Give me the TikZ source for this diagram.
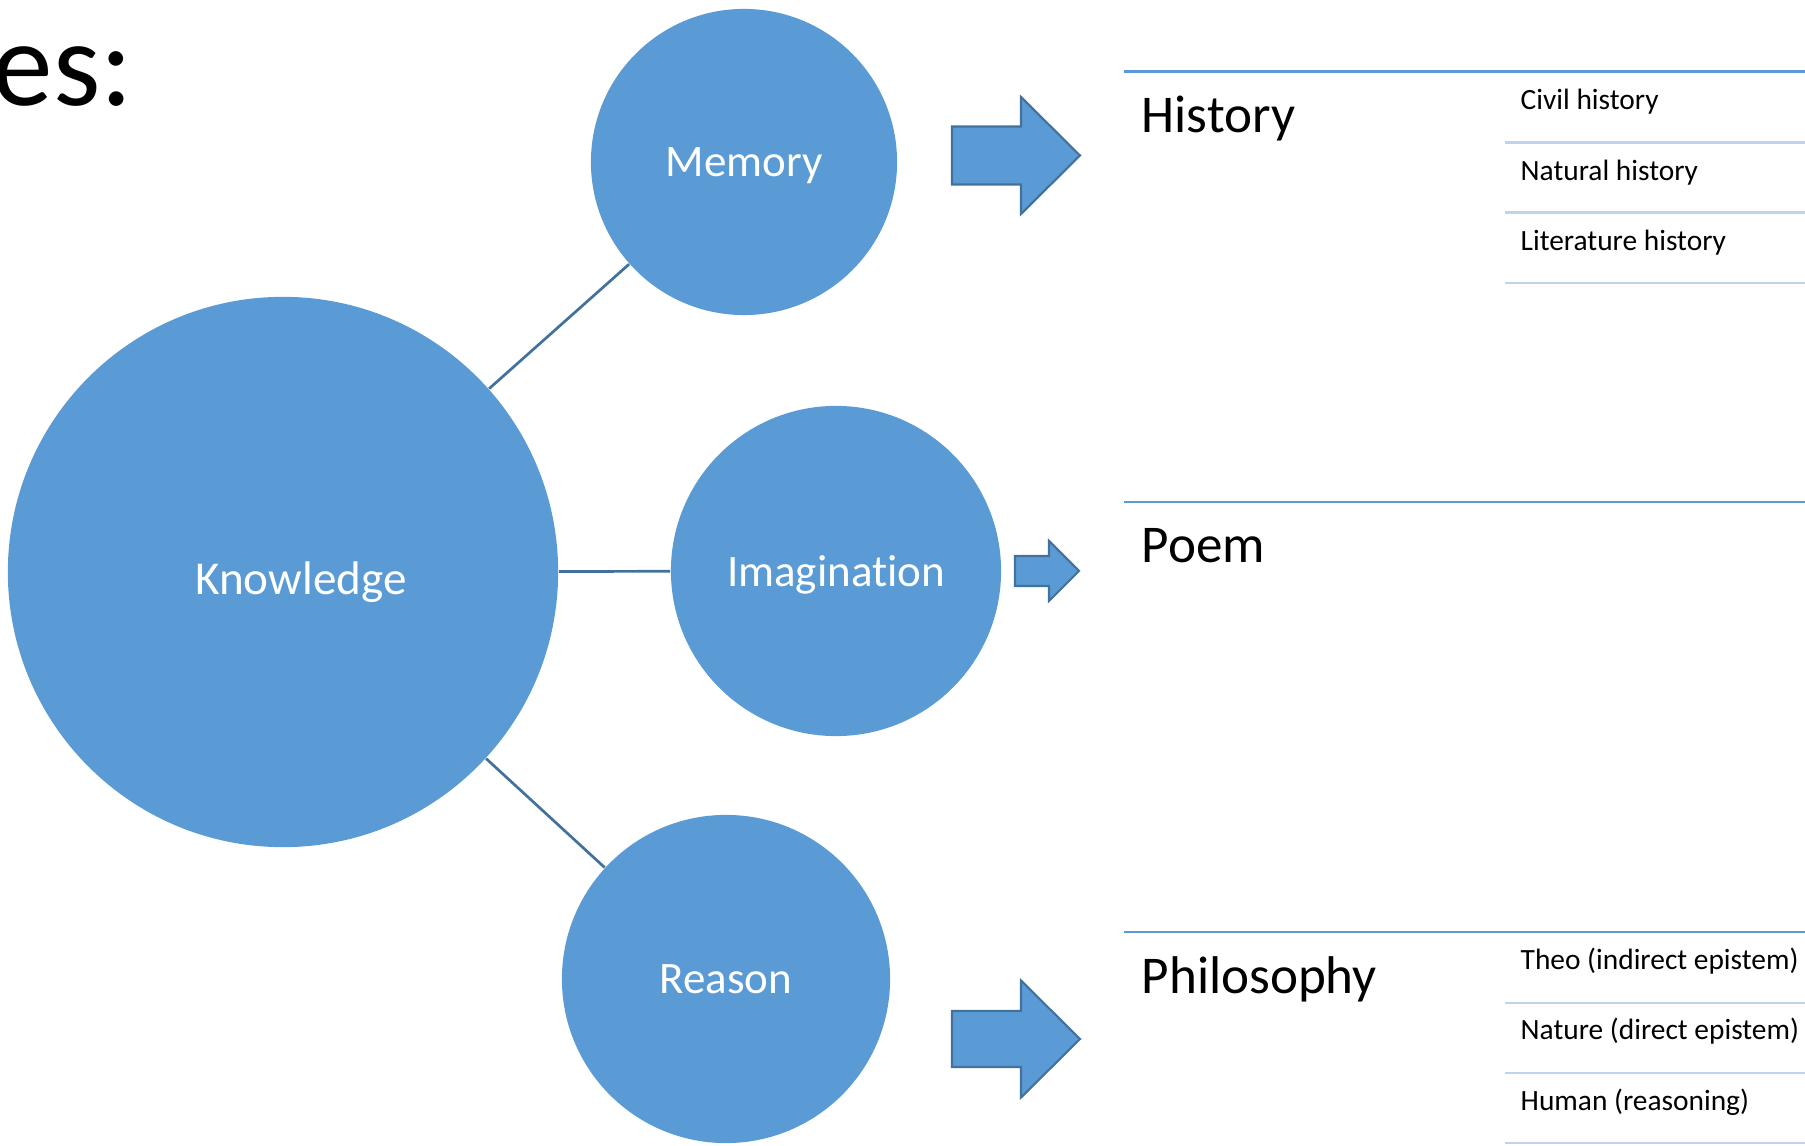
\documentclass[tikz,border=0pt]{standalone}
\usepackage{fontspec}
\setmainfont{Carlito}[Ligatures=CommonOff]
\definecolor{bub}{HTML}{5B9BD5}
\definecolor{bubline}{HTML}{41719C}
\definecolor{rulelight}{HTML}{BDD3EE}

\begin{document}
\begin{tikzpicture}
  [x=0.01cm,y=-0.01cm,every node/.style={inner sep=0pt},
   bubble/.style={circle,fill=bub,text=white,text depth=0pt,font=\fontsize{12.8}{15}\selectfont},
   conn/.style={draw=bubline,line width=0.77pt},
   blk/.style={fill=bub,draw=bubline,line width=0.6pt},
   toprule/.style={draw=bub,line width=0.85pt},
   subrule/.style={draw=rulelight,line width=0.85pt},
   head/.style={anchor=base west,font=\fontsize{15.1}{18}\selectfont},
   item/.style={anchor=base west,font=\fontsize{8.36}{10}\selectfont}]
  \useasboundingbox (0,0) rectangle (1805,1146);

  \node (es) [anchor=base west,font=\fontsize{34.5}{40}\selectfont] at (-8,106) {es:};

  \node (K) [bubble,minimum size=5.5cm,
    label={[text=white,text depth=0pt,font=\fontsize{13.4}{15}\selectfont,shift={(18,6)}]center:Knowledge}] at (283,572) {};
  \node (M) [bubble,minimum size=3.06cm] at (744,162) {Memory};
  \node (I) [bubble,minimum size=3.3cm] at (836,571) {Imagination};
  \node (R) [bubble,minimum size=3.28cm] at (726,979) {Reason};

  \foreach \to in {M,I,R}
    \draw[conn] (K) -- (\to);

  \foreach \cy/\sw/\hw/\x/\hx/\tx in {155.5/29/58.5/952/1021/1080,571/15/30/1015/1049/1079,1039/28/58.5/952/1021/1080}
    \draw[blk] (\x,\cy-\sw) -- (\hx,\cy-\sw) -- (\hx,\cy-\hw) -- (\tx,\cy)
      -- (\hx,\cy+\hw) -- (\hx,\cy+\sw) -- (\x,\cy+\sw) -- cycle;

  \foreach \y/\name/\title in {72/hist/History,502/poem/Poem,932/phil/Philosophy} {
    \draw[toprule] (1124,\y) -- (1805,\y);
    \node (\name) [head] at (1141,\y+61) {\title};
  }

  \foreach \t [count=\i] in {Civil history,Natural history,Literature history} {
    \draw[subrule] (1505,{72+71+70*(\i-1)}) -- (1805,{72+71+70*(\i-1)});
    \node (hist\i) [item] at (1520,{72+38+70.5*(\i-1)}) {\t};
  }
  \foreach \t [count=\i] in {Theo (indirect epistem),Nature (direct epistem),Human (reasoning)} {
    \draw[subrule] (1505,{932+71+70*(\i-1)}) -- (1805,{932+71+70*(\i-1)});
    \node (phil\i) [item] at (1520,{932+37+70.5*(\i-1)}) {\t};
  }
\end{tikzpicture}
\end{document}
